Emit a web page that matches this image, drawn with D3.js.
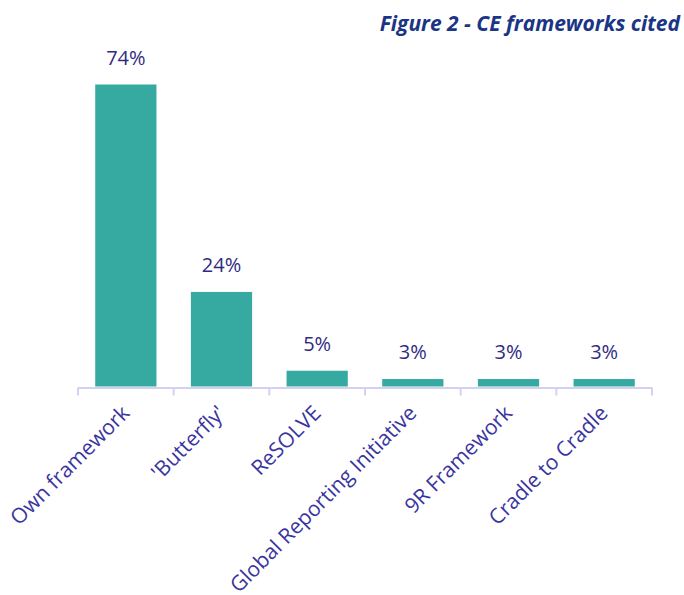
<!DOCTYPE html>
<html>
<head>
<meta charset="utf-8">
<script src="https://cdn.jsdelivr.net/npm/d3@7"></script>
<style>
  html, body { margin: 0; padding: 0; background: #ffffff; }
  svg { display: block; }
</style>
</head>
<body>
<svg id="chart" width="684" height="595"></svg>
<script>
// Frameworks cited and share of respondents citing each
const categories = ["Own framework", "'Butterfly'", "ReSOLVE", "Global Reporting Initiative", "9R Framework", "Cradle to Cradle"];
const values = [74, 24, 5, 3, 3, 3];
const valueLabels = ["74%", "24%", "5%", "3%", "3%", "3%"];
const title = "Figure 2 - CE frameworks cited";

const svg = d3.select("#chart");
const plot = { left: 78, right: 652, top: 84.5, bottom: 386.5 };

const x = d3.scaleBand()
  .domain(categories)
  .range([plot.left, plot.right])
  .paddingInner(0.36)
  .paddingOuter(0.18);

// value axis is hidden; its floor sits slightly above zero
const y = d3.scaleLinear()
  .domain([1.2, 74])
  .range([plot.bottom, plot.top]);

// title, right aligned
svg.append("text")
  .attr("x", 680)
  .attr("y", 31)
  .attr("text-anchor", "end")
  .attr("font-family", "'Open Sans', sans-serif")
  .attr("font-weight", "bold")
  .attr("font-style", "italic")
  .attr("font-size", 21)
  .attr("fill", "#1b3585")
  .text(title);

// bars
svg.append("g").selectAll("rect")
  .data(categories)
  .join("rect")
  .attr("x", d => x(d))
  .attr("width", x.bandwidth())
  .attr("y", (d, i) => y(values[i]))
  .attr("height", (d, i) => plot.bottom - y(values[i]))
  .attr("fill", "#36aaa1");

// value labels above bars
svg.append("g").selectAll("text")
  .data(categories)
  .join("text")
  .attr("x", d => x(d) + x.bandwidth() / 2)
  .attr("y", (d, i) => y(values[i]) - 20)
  .attr("text-anchor", "middle")
  .attr("font-family", "'Open Sans', sans-serif")
  .attr("font-size", 20)
  .attr("fill", "#2f2b82")
  .text((d, i) => valueLabels[i]);

// category axis with boundary ticks between bands
const axis = svg.append("g");
const boundaries = d3.range(categories.length + 1).map(i => plot.left + i * (plot.right - plot.left) / categories.length);

axis.append("line")
  .attr("x1", plot.left).attr("x2", plot.right)
  .attr("y1", plot.bottom + 1.5).attr("y2", plot.bottom + 1.5)
  .attr("stroke", "#d3d1f1")
  .attr("stroke-width", 2);

axis.selectAll("line.tick")
  .data(boundaries)
  .join("line")
  .attr("class", "tick")
  .attr("x1", d => d).attr("x2", d => d)
  .attr("y1", plot.bottom + 1).attr("y2", plot.bottom + 9)
  .attr("stroke", "#d3d1f1")
  .attr("stroke-width", 2);

// rotated category labels
axis.selectAll("text")
  .data(categories)
  .join("text")
  .attr("transform", d => `translate(${x(d) + x.bandwidth() / 2 + 5},${plot.bottom + 28}) rotate(-45)`)
  .attr("text-anchor", "end")
  .attr("font-family", "'Open Sans', sans-serif")
  .attr("font-size", 21)
  .attr("fill", "#3a35a0")
  .text(d => d);
</script>
</body>
</html>
